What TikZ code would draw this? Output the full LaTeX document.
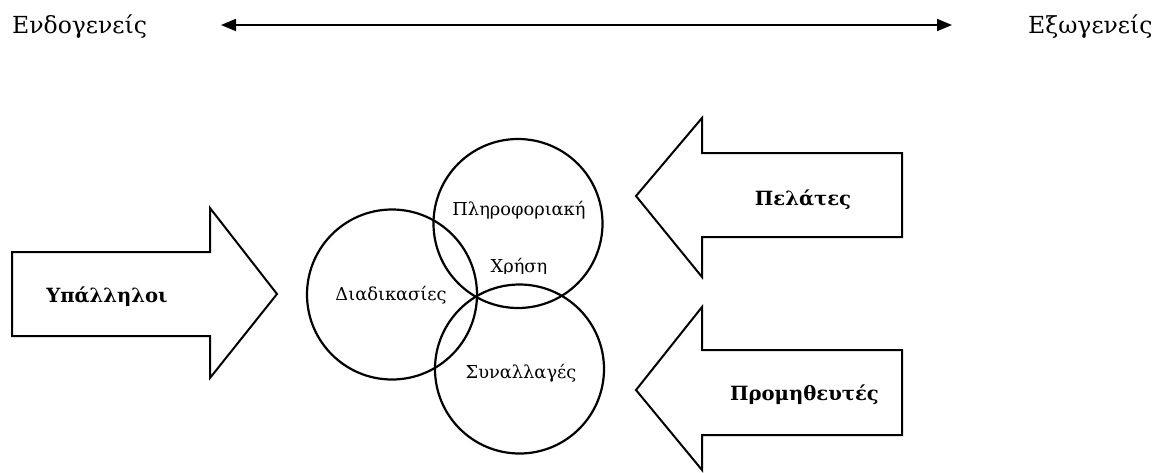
\documentclass[tikz,border=0pt]{standalone}
\usepackage{fontspec}
\setmainfont{DejaVu Serif}
\usetikzlibrary{arrows.meta}
\begin{document}
\begin{tikzpicture}[x=1pt,y=-1pt,
  lbl/.style={inner sep=0pt,anchor=base west,font=\fontsize{23.5}{26}\selectfont},
  ctext/.style={inner sep=0pt,anchor=base,font=\fontsize{17.8}{20}\selectfont},
  btext/.style={inner sep=0pt,anchor=base,font=\fontsize{19.6}{22}\selectfont\bfseries},
  blockarrow/.style={draw=black,line width=2pt,fill=white,line join=miter},
  ring/.style={draw=black,line width=2.2pt},
  axis/.style={line width=1.8pt,{Triangle[length=15pt,width=12pt]}-{Triangle[length=15pt,width=12pt]}}]
\useasboundingbox (0,0) rectangle (1170,472);
% top axis
\node[lbl] (endo) at (12,33) {Ενδογενείς};
\node[lbl] (exo) at (1028,33) {Εξωγενείς};
\coordinate (axL) at (221,25);
\coordinate (axR) at (952,25);
\draw[axis] (axL) -- (axR);
% block arrows
\draw[blockarrow] (12,252) -- (210,252) -- (210,208) -- (277,294) -- (210,378) -- (210,336) -- (12,336) -- cycle;
\node[btext] (ypal) at (107,302) {Υπάλληλοι};
\draw[blockarrow] (902,153) -- (702,153) -- (702,118) -- (636,196) -- (702,277) -- (702,237) -- (902,237) -- cycle;
\node[btext] (pel) at (803,205) {Πελάτες};
\draw[blockarrow] (902,350) -- (702,350) -- (702,307) -- (636,390) -- (702,470) -- (702,435) -- (902,435) -- cycle;
\node[btext] (prom) at (804.5,400) {Προμηθευτές};
% circles
\draw[ring] (518,223.5) circle (84.5);
\draw[ring] (392,294.5) circle (85);
\draw[ring] (519.5,369) circle (84.5);
\node[ctext] (pler) at (519,215) {Πληροφοριακή};
\begin{scope}
\clip (470,240) rectangle (570,273);
\node[ctext] (xrisi) at (519,272) {Χρήση};
\end{scope}
\node[ctext] (diad) at (391,300) {Διαδικασίες};
\node[ctext] (syn) at (521,378) {Συναλλαγές};
\end{tikzpicture}
\end{document}
